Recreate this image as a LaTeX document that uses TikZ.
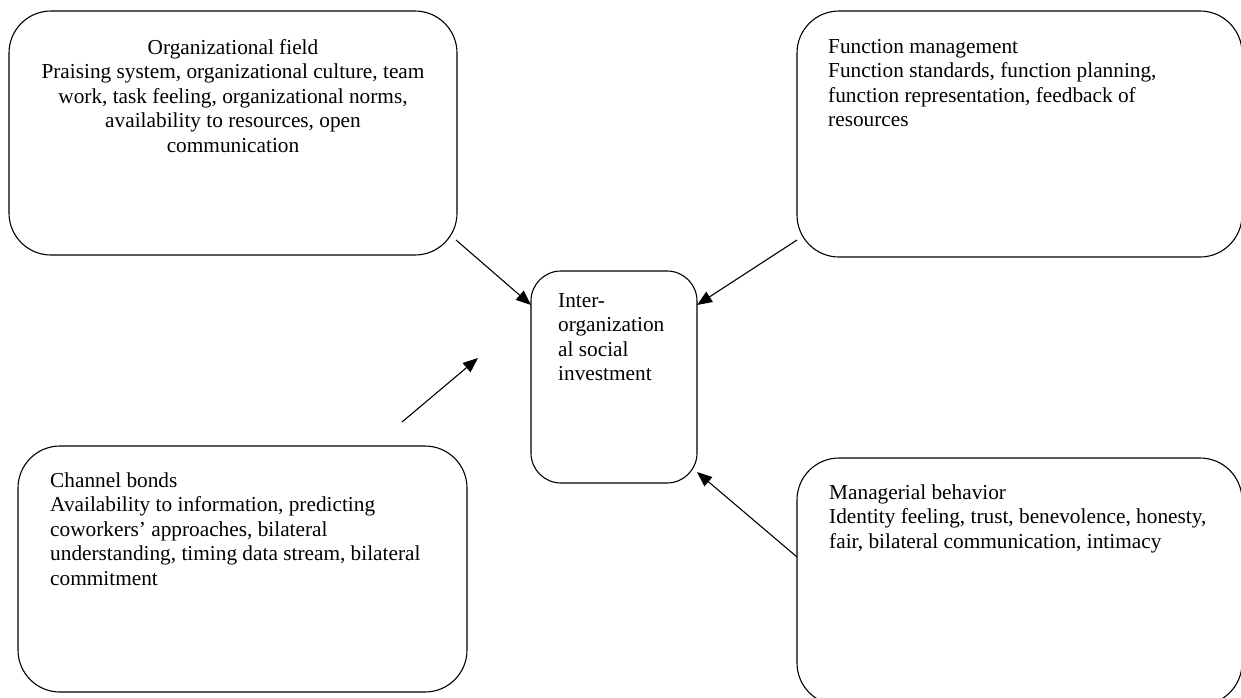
\documentclass[tikz,border=0pt]{standalone}
\usepackage{fontspec}
\setmainfont{Liberation Serif}
\usetikzlibrary{arrows.meta}
\begin{document}
\begin{tikzpicture}[x=1pt,y=-1pt,
  bigbox/.style={draw, line width=1.1pt, rounded corners=42pt},
  midbox/.style={draw, line width=1.1pt, rounded corners=30pt},
  txt/.style={inner sep=0pt, font=\fontsize{21.3}{24.5}\selectfont},
  conn/.style={line width=1.1pt, -{Triangle[length=15pt,width=12pt]}}]
\clip (0,0) rectangle (1241,697);
\fill[white] (0,0) rectangle (1241,697);
% boxes
\path[bigbox] (9,11) rectangle (457,255);
\path[bigbox] (797,11) rectangle (1242,257);
\path[bigbox] (18,446) rectangle (467,692);
\path[bigbox] (797,458) rectangle (1242,705);
\path[midbox] (531,271) rectangle (697,483);
% texts (base anchor = baseline of last line)
\node[txt, anchor=base, align=center] (t1) at (233,152)
  {Organizational field\\Praising system, organizational culture, team\\work, task feeling, organizational norms,\\availability to resources, open\\communication};
\node[txt, anchor=base west, align=left] (t2) at (828,126.5)
  {Function management\\Function standards, function planning,\\function representation, feedback of\\resources};
\node[txt, anchor=base west, align=left] (t3) at (50,585)
  {Channel bonds\\Availability to information, predicting\\coworkers’ approaches, bilateral\\understanding, timing data stream, bilateral\\commitment};
\node[txt, anchor=base west, align=left] (t4) at (829,548)
  {Managerial behavior\\Identity feeling, trust, benevolence, honesty,\\fair, bilateral communication, intimacy};
\node[txt, anchor=base west, align=left] (tc) at (558,380.5)
  {Inter-\\organization\\al social\\investment};
% connectors
\coordinate (a1s) at (456,240); \coordinate (a1e) at (531,305);
\coordinate (a2s) at (797,240); \coordinate (a2e) at (697,305);
\coordinate (a3s) at (402,422); \coordinate (a3e) at (478,358);
\coordinate (a4s) at (797,557); \coordinate (a4e) at (697,472);
\draw[conn] (a1s) -- (a1e);
\draw[conn] (a2s) -- (a2e);
\draw[conn] (a3s) -- (a3e);
\draw[conn] (a4s) -- (a4e);
\end{tikzpicture}
\end{document}
